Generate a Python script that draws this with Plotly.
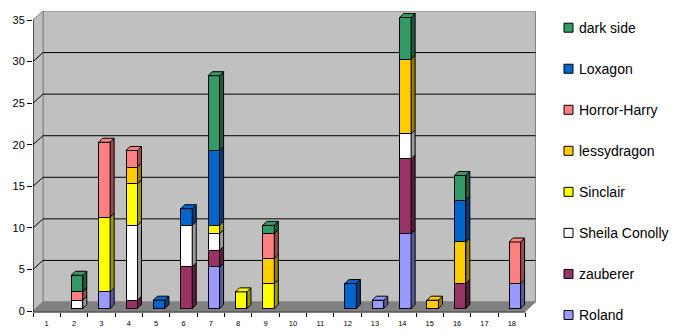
import plotly.graph_objects as go

# ---------------- data ----------------
categories = [str(i) for i in range(1, 19)]
series_names = ["Roland", "zauberer", "Sheila Conolly", "Sinclair",
                "lessydragon", "Horror-Harry", "Loxagon", "dark side"]
roland   = [0, 0, 2, 0, 0, 0, 5, 0, 0, 0, 0, 0, 1, 9, 0, 0, 0, 3]
zauberer = [0, 0, 0, 1, 0, 5, 2, 0, 0, 0, 0, 0, 0, 9, 0, 3, 0, 0]
sheila   = [0, 1, 0, 9, 0, 5, 2, 0, 0, 0, 0, 0, 0, 3, 0, 0, 0, 0]
sinclair = [0, 0, 9, 5, 0, 0, 1, 2, 3, 0, 0, 0, 0, 0, 0, 0, 0, 0]
lessy    = [0, 0, 0, 2, 0, 0, 0, 0, 3, 0, 0, 0, 0, 9, 1, 5, 0, 0]
horror   = [0, 1, 9, 2, 0, 0, 0, 0, 3, 0, 0, 0, 0, 0, 0, 0, 0, 5]
loxagon  = [0, 0, 0, 0, 1, 2, 9, 0, 0, 0, 0, 3, 0, 0, 0, 5, 0, 0]
dark     = [0, 2, 0, 0, 0, 0, 9, 0, 1, 0, 0, 0, 0, 5, 0, 3, 0, 0]
series_values = [roland, zauberer, sheila, sinclair, lessy, horror, loxagon, dark]
y_ticks = [0, 5, 10, 15, 20, 25, 30, 35]

colors = ["#9999FF", "#993366", "#FFFFFF", "#FFFF00",
          "#FFCC00", "#FF8080", "#0066CC", "#339966"]

# ---------------- geometry (styles) ----------------
W, H = 690, 336
PL, PR, PT, PB = 33, 537, 11, 312          # plot area in pixels
SX, SY = 27.36, 8.314                      # px per unit
Y0PX = 311                                 # pixel of value 0 on front plane
xr = [0.5, 0.5 + (PR - PL) / SX]
yr = [-(PB - Y0PX) / SY, (Y0PX - PT) / SY]
WX, WY = 10 / SX, 9 / SY                   # wall depth offset
BX, BY = 3 / SX, 2.5 / SY                  # bar plane offset
DX, DY = 4 / SX, 4 / SY                    # bar depth
BW = 0.42
FONT = "Arial, Liberation Sans, sans-serif"


def darker(hexc, f=0.6):
    r, g, b = int(hexc[1:3], 16), int(hexc[3:5], 16), int(hexc[5:7], 16)
    return "rgb(%d,%d,%d)" % (r * f, g * f, b * f)


fig = go.Figure()
xs = list(range(1, len(categories) + 1))

# front faces
for name, vals, col in zip(series_names, series_values, colors):
    fig.add_trace(go.Bar(
        x=xs, y=[v if v else None for v in vals], name=name, width=BW,
        marker=dict(color=col, line=dict(color="black", width=1)),
        xaxis="x2", yaxis="y2", showlegend=False))

# side and top faces computed from the data
cum = [0] * len(xs)
tops = [None] * len(xs)
for si, (vals, col) in enumerate(zip(series_values, colors)):
    sx, sy = [], []
    for i, v in enumerate(vals):
        if v:
            x = xs[i] + BW / 2
            y0, y1 = cum[i], cum[i] + v
            sx += [x, x + DX, x + DX, x, x, None]
            sy += [y0, y0 + DY, y1 + DY, y1, y0, None]
            tops[i] = (y1, si)
            cum[i] = y1
    if sx:
        fig.add_trace(go.Scatter(x=sx, y=sy, mode="lines", fill="toself",
                                 fillcolor=darker(col), line=dict(color="black", width=1),
                                 xaxis="x2", yaxis="y2", showlegend=False, hoverinfo="skip"))
for si, col in enumerate(colors):
    tx, ty = [], []
    for i, t in enumerate(tops):
        if t and t[1] == si:
            xl, xrr, y = xs[i] - BW / 2, xs[i] + BW / 2, t[0]
            tx += [xl, xl + DX, xrr + DX, xrr, xl, None]
            ty += [y, y + DY, y + DY, y, y, None]
    if tx:
        fig.add_trace(go.Scatter(x=tx, y=ty, mode="lines", fill="toself",
                                 fillcolor=col, line=dict(color="black", width=1),
                                 xaxis="x2", yaxis="y2", showlegend=False, hoverinfo="skip"))

# ---------------- walls, floor, gridlines ----------------
shapes = []
n = len(categories)
xa, xb = 0.5, n + 0.5
top = y_ticks[-1]
shapes.append(dict(type="rect", xref="x", yref="y", x0=xa + WX, x1=xb + WX, y0=WY, y1=top + WY,
                   fillcolor="#C0C0C0", line=dict(color="#808080", width=1), layer="below"))
shapes.append(dict(type="path", xref="x", yref="y",
                   path=f"M{xa},0 L{xa+WX},{WY} L{xa+WX},{top+WY} L{xa},{top} Z",
                   fillcolor="#C0C0C0", line=dict(color="#808080", width=1), layer="below"))
shapes.append(dict(type="path", xref="x", yref="y",
                   path=f"M{xa},0 L{xa+WX},{WY} L{xb+WX},{WY} L{xb},0 Z",
                   fillcolor="#808080", line=dict(color="#808080", width=1), layer="below"))
for v in y_ticks[1:-1]:
    shapes.append(dict(type="line", xref="x", yref="y", x0=xa + WX, x1=xb + WX, y0=v + WY, y1=v + WY,
                       line=dict(color="black", width=1), layer="below"))
    shapes.append(dict(type="line", xref="x", yref="y", x0=xa, x1=xa + WX, y0=v, y1=v + WY,
                       line=dict(color="black", width=1), layer="below"))
# axis lines
shapes.append(dict(type="line", xref="x", yref="paper", x0=xa, x1=xb, y0=0, y1=0,
                   line=dict(color="black", width=1)))
shapes.append(dict(type="line", xref="x", yref="y", x0=xa, x1=xa, y0=yr[0], y1=top,
                   line=dict(color="black", width=1)))

# ---------------- custom legend ----------------
annotations = []
pw, ph = PR - PL, PB - PT
for k, (name, col) in enumerate(zip(series_names[::-1], colors[::-1])):
    cy = 27.7 + k * 41.04
    shapes.append(dict(type="rect", xref="paper", yref="paper",
                       x0=(564 - PL) / pw, x1=(573 - PL) / pw,
                       y0=(PB - (cy + 4.5)) / ph, y1=(PB - (cy - 4.5)) / ph,
                       fillcolor=col, line=dict(color="black", width=1)))
    annotations.append(dict(xref="paper", yref="paper", x=(577 - PL) / pw, y=(PB - cy) / ph,
                            text=name, showarrow=False, xanchor="left", yanchor="middle",
                            font=dict(family=FONT, size=14, color="black")))

fig.update_layout(
    width=W, height=H,
    margin=dict(l=PL, r=W - PR, t=PT, b=H - PB, pad=0, autoexpand=False),
    paper_bgcolor="white", plot_bgcolor="white",
    barmode="stack", showlegend=False,
    shapes=shapes, annotations=annotations,
    xaxis=dict(range=xr, showgrid=False, zeroline=False, showline=False, automargin=False,
               tickmode="array", tickvals=xs, ticktext=categories,
               ticks="outside", ticklen=4, tickcolor="rgba(0,0,0,0)",
               tickfont=dict(family=FONT, size=7.5, color="black"),
               minor=dict(tickmode="array", tickvals=[i + 0.5 for i in range(0, n + 1)],
                          ticks="outside", ticklen=4, tickcolor="black", showgrid=False)),
    yaxis=dict(range=yr, showgrid=False, zeroline=False, showline=False, automargin=False,
               tickmode="array", tickvals=y_ticks, ticks="outside", ticklen=5,
               tickcolor="black", tickfont=dict(family=FONT, size=11, color="black")),
    xaxis2=dict(range=[xr[0] - BX, xr[1] - BX], overlaying="x", visible=False),
    yaxis2=dict(range=[yr[0] - BY, yr[1] - BY], overlaying="y", visible=False),
)

fig.write_html("out.html")
